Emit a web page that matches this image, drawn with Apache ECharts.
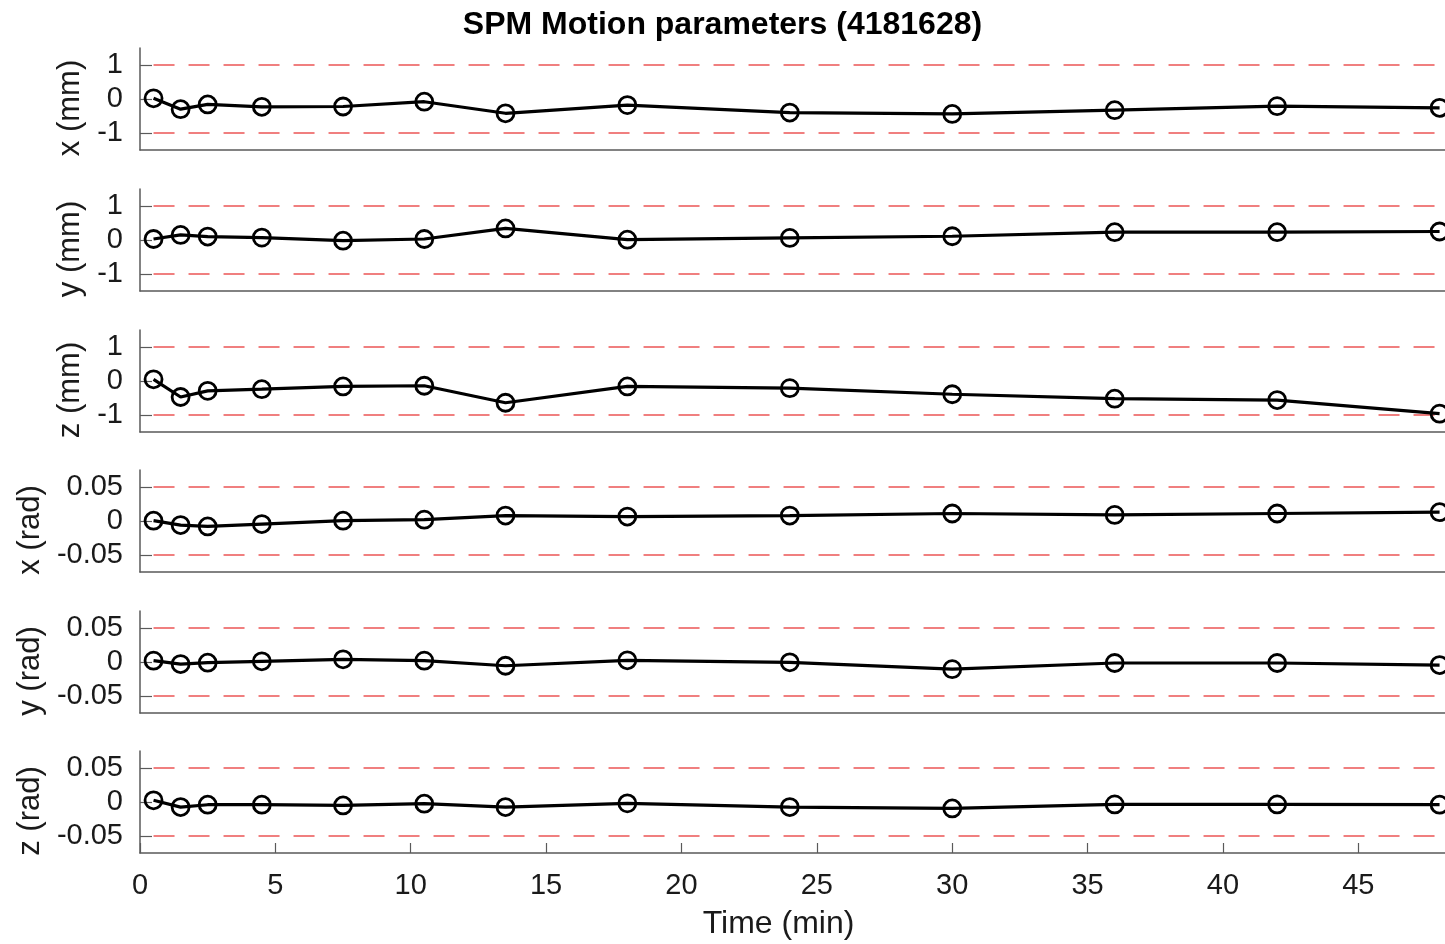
<!DOCTYPE html>
<html>
<head>
<meta charset="utf-8">
<script src="https://cdn.jsdelivr.net/npm/echarts@6/dist/echarts.min.js"></script>
<style>
html,body{margin:0;padding:0;background:#fff;}
#chart{width:1445px;height:944px;}
</style>
</head>
<body>
<div id="chart"></div>
<script>
// ---- data ----
const chartTitle = 'SPM Motion parameters (4181628)';
const times = [0.5, 1.5, 2.5, 4.5, 7.5, 10.5, 13.5, 18, 24, 30, 36, 42, 48];
const transX = [0.02, -0.30, -0.16, -0.23, -0.22, -0.08, -0.42, -0.18, -0.40, -0.44, -0.33, -0.21, -0.26];
const transY = [0.03, 0.15, 0.10, 0.07, -0.02, 0.03, 0.34, 0.01, 0.06, 0.11, 0.23, 0.23, 0.25];
const transZ = [0.05, -0.47, -0.29, -0.24, -0.16, -0.14, -0.64, -0.16, -0.21, -0.39, -0.52, -0.56, -0.96];
const rotX = [0.0005, -0.006, -0.008, -0.0045, 0.0005, 0.002, 0.008, 0.0065, 0.008, 0.011, 0.009, 0.011, 0.013];
const rotY = [0.002, -0.003, -0.001, 0.001, 0.004, 0.002, -0.0055, 0.0025, -0.0005, -0.0105, -0.0015, -0.0015, -0.0045];
const rotZ = [0.0025, -0.0075, -0.004, -0.004, -0.005, -0.0025, -0.0075, -0.002, -0.0075, -0.0095, -0.0035, -0.0035, -0.004];
const panelLabels = ['x (mm)', 'y (mm)', 'z (mm)', 'x (rad)', 'y (rad)', 'z (rad)'];
const mmLimit = 1;
const radLimit = 0.05;
const mmTicks = [-1, 0, 1];
const radTicks = [-0.05, 0, 0.05];
const xTicks = [0, 5, 10, 15, 20, 25, 30, 35, 40, 45];
const xLabel = 'Time (min)';

// ---- layout ----
const panelValues = [transX, transY, transZ, rotX, rotY, rotZ];
const panelTops = [48, 189, 330, 470, 611, 751];
const panelH = 102;
const FONT = '"Liberation Sans", Arial, Helvetica, sans-serif';
const axisGray = '#5a5a5a';
const textCol = '#1a1a1a';

const grids = [], xAxes = [], yAxes = [], series = [];
panelValues.forEach((vals, i) => {
  const isMm = i < 3;
  const lim = isMm ? mmLimit : radLimit;
  const ticks = isMm ? mmTicks : radTicks;
  const isLast = i === panelValues.length - 1;
  grids.push({left: 140, right: 0, top: panelTops[i], height: panelH});
  xAxes.push({
    type: 'value', gridIndex: i, min: 0, max: 48.2,
    axisLine: {show: true, onZero: false, lineStyle: {color: axisGray, width: 1.5}},
    axisTick: {show: isLast, inside: true, length: 10, customValues: xTicks, lineStyle: {color: axisGray, width: 1.2}},
    axisLabel: {show: isLast, customValues: xTicks, margin: 18, fontSize: 29, color: textCol, fontFamily: FONT},
    splitLine: {show: false},
    name: isLast ? xLabel : '',
    nameLocation: 'middle', nameGap: 55,
    nameTextStyle: {fontSize: 32, color: textCol, fontFamily: FONT, padding: [0, 28, 0, 0]}
  });
  yAxes.push({
    type: 'value', gridIndex: i, min: -1.5 * lim, max: 1.5 * lim,
    axisLine: {show: true, onZero: false, lineStyle: {color: axisGray, width: 1.5}},
    axisTick: {show: true, inside: true, length: 12, customValues: ticks, lineStyle: {color: axisGray, width: 1.2}},
    axisLabel: {customValues: ticks, margin: 17, fontSize: 29, color: textCol, fontFamily: FONT},
    splitLine: {show: false},
    name: panelLabels[i], nameLocation: 'middle', nameGap: 50, nameRotate: 90,
    nameTextStyle: {fontSize: 31, color: textCol, fontFamily: FONT, padding: [0, 18, 0, 0]}
  });
  [lim, -lim].forEach(v => {
    series.push({
      type: 'line', xAxisIndex: i, yAxisIndex: i, silent: true, z: 1,
      symbol: 'none',
      data: [[times[0], v], [times[times.length - 1], v]],
      lineStyle: {color: '#f07f7f', width: 2.2, type: [21, 14]}
    });
  });
  series.push({
    type: 'line', xAxisIndex: i, yAxisIndex: i, z: 3, clip: false,
    data: times.map((t, k) => [t, vals[k]]),
    symbol: 'circle', symbolSize: 17, showAllSymbol: true,
    lineStyle: {color: '#000', width: 3.2},
    itemStyle: {color: 'rgba(0,0,0,0)', borderColor: '#000', borderWidth: 2.8}
  });
});

const chart = echarts.init(document.getElementById('chart'), null, {renderer: 'canvas'});
chart.setOption({
  animation: false,
  backgroundColor: '#fff',
  title: {
    text: chartTitle, left: 'center', top: 4,
    textStyle: {fontSize: 32, fontWeight: 'bold', color: '#000', fontFamily: FONT}
  },
  grid: grids, xAxis: xAxes, yAxis: yAxes, series: series
});
</script>
</body>
</html>
